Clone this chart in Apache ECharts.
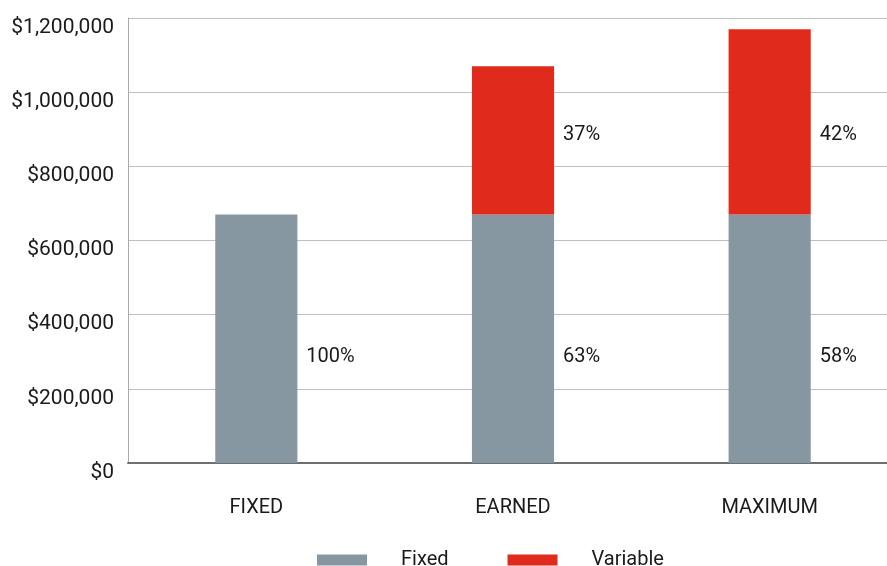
<!DOCTYPE html>
<html>
<head>
<meta charset="utf-8">
<script src="https://cdn.jsdelivr.net/npm/echarts@6/dist/echarts.min.js"></script>
<style>
  html, body { margin: 0; padding: 0; background: #fff; }
  #chart { width: 887px; height: 566px; }
</style>
</head>
<body>
<div id="chart"></div>
<script>
const categories = ['FIXED', 'EARNED', 'MAXIMUM']
const fixedValues = [670000, 670000, 670000]
const variableValues = [0, 400000, 500000]
const fixedPct = ['100%', '63%', '58%']
const variablePct = ['', '37%', '42%']
// y value where each percent label sits
const fixedLabelY = [285000, 285000, 285000]
const variableLabelY = [884000, 884000, 884000]
const yTicks = [0, 200000, 400000, 600000, 800000, 1000000, 1200000]

const GRAY = '#8797a1'
const RED = '#e02a1b'
const FONT = 'Roboto'
const TEXT = '#1a1a1a'

const chart = echarts.init(document.getElementById('chart'))

function labelSeries(ys, texts) {
  return {
    type: 'scatter',
    symbolSize: 0,
    silent: true,
    z: 5,
    itemStyle: { opacity: 1 },
    data: categories.map((c, i) => ({ value: [c, ys[i]], label: { formatter: texts[i] } })),
    label: {
      show: true,
      position: 'right',
      distance: 50,
      fontFamily: FONT,
      fontSize: 20,
      color: TEXT
    }
  }
}

chart.setOption({
  backgroundColor: '#fff',
  animation: false,
  textStyle: { fontFamily: FONT },
  legend: {
    left: 317,
    top: 550,
    padding: 0,
    itemWidth: 50,
    itemHeight: 11,
    itemGap: 59,
    icon: 'rect',
    data: ['Fixed', 'Variable'],
    textStyle: { fontFamily: FONT, fontSize: 20, color: TEXT, padding: [0, 0, 0, 29] }
  },
  grid: { left: 128, right: -11, top: 18, bottom: 103, outerBoundsMode: 'none' },
  xAxis: {
    type: 'category',
    data: categories,
    axisTick: { show: false },
    axisLine: { lineStyle: { color: '#6e6e6e', width: 2 } },
    axisLabel: { color: TEXT, fontSize: 20, fontFamily: FONT, margin: 35 }
  },
  yAxis: {
    type: 'value',
    min: 0,
    max: 1200000,
    interval: 200000,
    axisLine: { show: true, lineStyle: { color: '#aaa', width: 1 } },
    axisTick: { show: false },
    splitLine: { lineStyle: { color: '#bfbfbf', width: 1 } },
    axisLabel: {
      color: TEXT, fontSize: 21, fontFamily: FONT, margin: 14,
      verticalAlign: 'top',
      lineHeight: 19,
      formatter: v => yTicks.includes(v) ? '$' + v.toLocaleString('en-US') : ''
    }
  },
  series: [
    {
      name: 'Fixed',
      type: 'bar',
      stack: 'pay',
      barWidth: '32%',
      itemStyle: { color: GRAY },
      data: fixedValues
    },
    {
      name: 'Variable',
      type: 'bar',
      stack: 'pay',
      barWidth: '32%',
      itemStyle: { color: RED },
      data: variableValues
    },
    labelSeries(fixedLabelY, fixedPct),
    labelSeries(variableLabelY, variablePct)
  ]
})
</script>
</body>
</html>
